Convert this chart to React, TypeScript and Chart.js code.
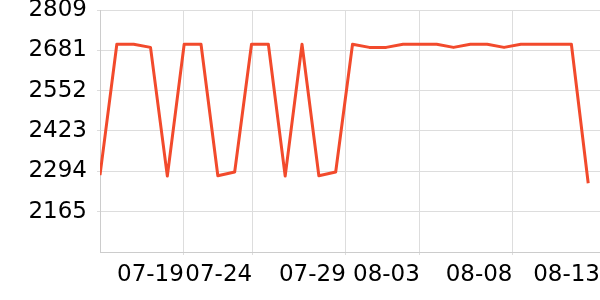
import React, { useEffect, useRef } from "react";
import { Chart, registerables } from "chart.js";

Chart.register(...registerables);

// Series values, one per sample (evenly spaced samples)
const values = [
  2282, 2700, 2700, 2690, 2279, 2700, 2700, 2280, 2292, 2700,
  2700, 2279, 2700, 2280, 2292, 2700, 2690, 2690, 2700, 2700,
  2700, 2690, 2700, 2700, 2690, 2700, 2700, 2700, 2700, 2256,
];

// Date tick labels and where each date falls along the sample index
const xTickLabels = ["07-19", "07-24", "07-29", "08-03", "08-08", "08-13"];
const xTickAt = [4.98, 9.04, 14.6, 19.0, 24.5, 29.7];

// Value axis
const yTickLabels = [2165, 2294, 2423, 2552, 2681, 2809];
const yMin = 2036.5;
const yMax = 2809.4;

export default function App() {
  const ref = useRef<HTMLCanvasElement | null>(null);

  useEffect(() => {
    document.body.style.margin = "0";
    const canvas = ref.current;
    if (!canvas) return;
    const font = { family: "DejaVu Sans", size: 23 };
    const chart = new Chart(canvas, {
      type: "line",
      data: {
        datasets: [
          {
            data: values.map((v, i) => ({ x: i, y: v })),
            borderColor: "#f24a2c",
            backgroundColor: "#f24a2c",
            borderWidth: 3,
            borderJoinStyle: "round",
            pointRadius: 0,
            tension: 0,
            fill: false,
          },
        ],
      },
      options: {
        animation: false,
        responsive: false,
        maintainAspectRatio: false,
        layout: { padding: 0 },
        plugins: { legend: { display: false }, tooltip: { enabled: false } },
        scales: {
          x: {
            type: "linear",
            min: 0,
            max: xTickAt[xTickAt.length - 1],
            afterBuildTicks: (axis: any) => {
              axis.ticks = xTickAt.map((v) => ({ value: v }));
            },
            afterFit: (axis: any) => {
              axis.height = 48;
              axis.paddingLeft = 0;
              axis.paddingRight = 0;
            },
            ticks: {
              autoSkip: false,
              maxRotation: 0,
              minRotation: 0,
              align: "end",
              color: "#000",
              font,
              padding: 6,
              callback: (_v: any, i: number) => xTickLabels[i],
            },
            grid: { color: "#dddddd", tickLength: 3 },
            border: { color: "#cccccc" },
          },
          y: {
            min: yMin,
            max: yMax,
            afterBuildTicks: (axis: any) => {
              axis.ticks = yTickLabels.map((v) => ({ value: v }));
            },
            afterFit: (axis: any) => {
              axis.width = 100;
              axis.paddingTop = 10;
              axis.paddingBottom = 0;
            },
            ticks: {
              color: "#000",
              font,
              padding: 10,
              callback: (v: any) => String(Math.round(Number(v))),
            },
            grid: { color: "#dddddd", tickLength: 3 },
            border: { color: "#cccccc" },
          },
        },
      },
    });
    return () => chart.destroy();
  }, []);

  return <canvas ref={ref} width={600} height={300} style={{ display: "block" }} />;
}
